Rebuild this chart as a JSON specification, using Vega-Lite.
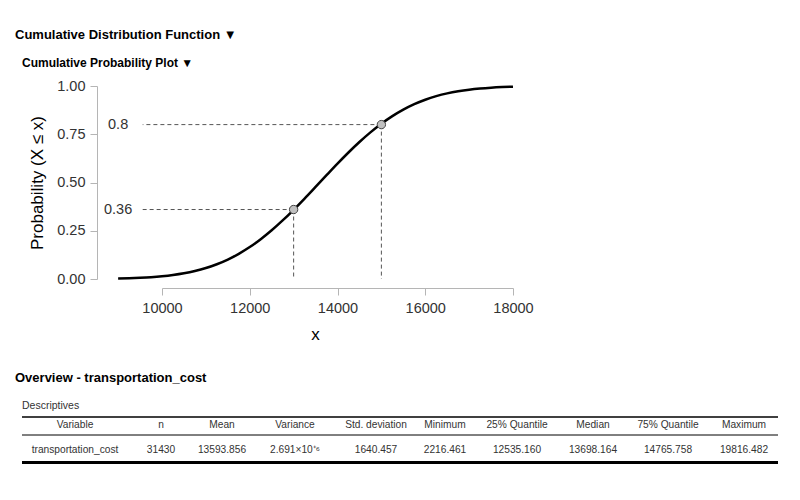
{
  "$schema": "https://vega.github.io/schema/vega-lite/v6.json",
  "background": "white",
  "padding": {"left": 15, "top": 29, "right": 5, "bottom": 5},
  "config": {
    "font": "Liberation Sans",
    "view": {"stroke": null},
    "axis": {"grid": false},
    "title": {"anchor": "start", "frame": "group", "font": "Liberation Sans", "fontWeight": "bold", "color": "#000"}
  },
  "datasets": {
    "curve": [
      {"x": 9000, "p": 0.0026}, {"x": 9250, "p": 0.0040}, {"x": 9500, "p": 0.0063}, {"x": 9750, "p": 0.0095},
      {"x": 10000, "p": 0.0142}, {"x": 10250, "p": 0.0207}, {"x": 10500, "p": 0.0296}, {"x": 10750, "p": 0.0415},
      {"x": 11000, "p": 0.0568}, {"x": 11250, "p": 0.0765}, {"x": 11500, "p": 0.1008}, {"x": 11750, "p": 0.1305},
      {"x": 12000, "p": 0.1655}, {"x": 12250, "p": 0.2063}, {"x": 12500, "p": 0.2524}, {"x": 12750, "p": 0.3034},
      {"x": 13000, "p": 0.3586}, {"x": 13250, "p": 0.4169}, {"x": 13500, "p": 0.4772}, {"x": 13750, "p": 0.5379},
      {"x": 14000, "p": 0.5978}, {"x": 14250, "p": 0.6554}, {"x": 14500, "p": 0.7097}, {"x": 14750, "p": 0.7596},
      {"x": 15000, "p": 0.8043}, {"x": 15250, "p": 0.8437}, {"x": 15500, "p": 0.8774}, {"x": 15750, "p": 0.9057},
      {"x": 16000, "p": 0.9288}, {"x": 16250, "p": 0.9473}, {"x": 16500, "p": 0.9618}, {"x": 16750, "p": 0.9728},
      {"x": 17000, "p": 0.9811}, {"x": 17250, "p": 0.9871}, {"x": 17500, "p": 0.9914}, {"x": 17750, "p": 0.9944},
      {"x": 18000, "p": 0.9964}
    ],
    "marks": [
      {"x": 13000, "p": 0.36, "label": "0.36"},
      {"x": 15000, "p": 0.8, "label": "0.8"}
    ],
    "lines": [{"row": 0}, {"row": 1}, {"row": 2}],
    "cells": [
      {"row": 0, "col": 0, "label": "Variable"},
      {"row": 0, "col": 1, "label": "n"},
      {"row": 0, "col": 2, "label": "Mean"},
      {"row": 0, "col": 3, "label": "Variance"},
      {"row": 0, "col": 4, "label": "Std. deviation"},
      {"row": 0, "col": 5, "label": "Minimum"},
      {"row": 0, "col": 6, "label": "25% Quantile"},
      {"row": 0, "col": 7, "label": "Median"},
      {"row": 0, "col": 8, "label": "75% Quantile"},
      {"row": 0, "col": 9, "label": "Maximum"},
      {"row": 1, "col": 0, "label": "transportation_cost"},
      {"row": 1, "col": 1, "label": "31430"},
      {"row": 1, "col": 2, "label": "13593.856"},
      {"row": 1, "col": 3, "label": "2.691×10⁺⁶"},
      {"row": 1, "col": 4, "label": "1640.457"},
      {"row": 1, "col": 5, "label": "2216.461"},
      {"row": 1, "col": 6, "label": "12535.160"},
      {"row": 1, "col": 7, "label": "13698.164"},
      {"row": 1, "col": 8, "label": "14765.758"},
      {"row": 1, "col": 9, "label": "19816.482"}
    ]
  },
  "vconcat": [
    {
      "title": {"text": "Cumulative Distribution Function ▼", "fontSize": 13, "dx": -7, "offset": 15},
      "vconcat": [
        {
          "width": 491,
          "height": 193,
          "title": {"text": "Cumulative Probability Plot ▼", "fontSize": 12, "offset": 8},
          "layer": [
            {
              "data": {"name": "curve"},
              "mark": {"type": "line", "color": "#000", "strokeWidth": 2.5, "interpolate": "monotone"},
              "encoding": {
                "x": {"field": "x", "type": "quantitative", "scale": {"domain": [10000, 18000], "range": [140, 491], "nice": false, "zero": false},
                  "axis": {"values": [10000, 12000, 14000, 16000, 18000], "format": "d", "offset": 9, "tickSize": 7, "labelFontSize": 14.5, "labelColor": "#333", "labelPadding": 6, "labelFlush": false, "domainColor": "#b5b5b5", "tickColor": "#b5b5b5", "title": "x", "titleFontSize": 17, "titleFontWeight": "normal", "titleColor": "#000", "titleX": 293, "titlePadding": 12}},
                "y": {"field": "p", "type": "quantitative", "scale": {"domain": [0, 1], "nice": false},
                  "axis": {"values": [0, 0.25, 0.5, 0.75, 1], "format": ".2f", "offset": -75, "tickSize": 7, "labelFontSize": 14.5, "labelColor": "#333", "labelPadding": 5, "labelFlush": false, "domainColor": "#b5b5b5", "tickColor": "#b5b5b5", "title": "Probability (X ≤ x)", "titleFontSize": 17, "titleFontWeight": "normal", "titleColor": "#000", "titlePadding": 10}}
              }
            },
            {
              "data": {"name": "marks"},
              "mark": {"type": "rule", "color": "#555", "strokeDash": [4, 3], "strokeWidth": 1},
              "encoding": {
                "x": {"field": "x", "type": "quantitative"},
                "x2": {"datum": 9560},
                "y": {"field": "p", "type": "quantitative"}
              }
            },
            {
              "data": {"name": "marks"},
              "mark": {"type": "rule", "color": "#555", "strokeDash": [4, 3], "strokeWidth": 1},
              "encoding": {
                "x": {"field": "x", "type": "quantitative"},
                "y": {"field": "p", "type": "quantitative"},
                "y2": {"datum": 0}
              }
            },
            {
              "data": {"name": "marks"},
              "mark": {"type": "circle", "fill": "#c0c0c0", "stroke": "#444", "strokeWidth": 1, "size": 70, "opacity": 1},
              "encoding": {
                "x": {"field": "x", "type": "quantitative"},
                "y": {"field": "p", "type": "quantitative"}
              }
            },
            {
              "data": {"name": "marks"},
              "mark": {"type": "text", "fontSize": 14.5, "color": "#333", "align": "center", "baseline": "middle"},
              "encoding": {
                "x": {"datum": 9000, "type": "quantitative"},
                "y": {"field": "p", "type": "quantitative"},
                "text": {"field": "label"}
              }
            }
          ]
        }
      ]
    },
    {
      "title": {"text": "Overview - transportation_cost", "fontSize": 13, "dx": -7, "offset": 16},
      "vconcat": [
        {
          "width": 756,
          "height": 46,
          "title": {"text": "Descriptives", "fontSize": 10.5, "fontWeight": "normal", "color": "#333", "offset": 5},
          "layer": [
            {
              "data": {"name": "cells"},
              "transform": [{"filter": "datum.row == 0"}],
              "mark": {"type": "text", "fontSize": 10.2, "color": "#333", "align": "center", "baseline": "middle", "dy": 8.3},
              "encoding": {
                "x": {"field": "col", "type": "quantitative", "scale": {"domain": [0, 1, 2, 3, 4, 5, 6, 7, 8, 9], "range": [53, 139, 200, 273, 354, 423, 495, 571, 646, 722], "zero": false, "nice": false}, "axis": null},
                "y": {"field": "row", "type": "quantitative", "scale": {"domain": [0, 1, 2], "range": [0, 18, 45.5], "zero": false, "nice": false}, "axis": null},
                "text": {"field": "label"}
              }
            },
            {
              "data": {"name": "cells"},
              "transform": [{"filter": "datum.row == 1"}],
              "mark": {"type": "text", "fontSize": 10.2, "color": "#333", "align": "center", "baseline": "middle", "dy": 15.3},
              "encoding": {
                "x": {"field": "col", "type": "quantitative"},
                "y": {"field": "row", "type": "quantitative"},
                "text": {"field": "label"}
              }
            },
            {
              "data": {"name": "lines"},
              "transform": [{"filter": "datum.row == 0"}],
              "mark": {"type": "rule", "color": "#000", "strokeWidth": 1.5},
              "encoding": {"y": {"field": "row", "type": "quantitative"}}
            },
            {
              "data": {"name": "lines"},
              "transform": [{"filter": "datum.row == 1"}],
              "mark": {"type": "rule", "color": "#000", "strokeWidth": 1},
              "encoding": {"y": {"field": "row", "type": "quantitative"}}
            },
            {
              "data": {"name": "lines"},
              "transform": [{"filter": "datum.row == 2"}],
              "mark": {"type": "rule", "color": "#000", "strokeWidth": 2.8},
              "encoding": {"y": {"field": "row", "type": "quantitative"}}
            }
          ]
        }
      ]
    }
  ],
  "spacing": 28
}
